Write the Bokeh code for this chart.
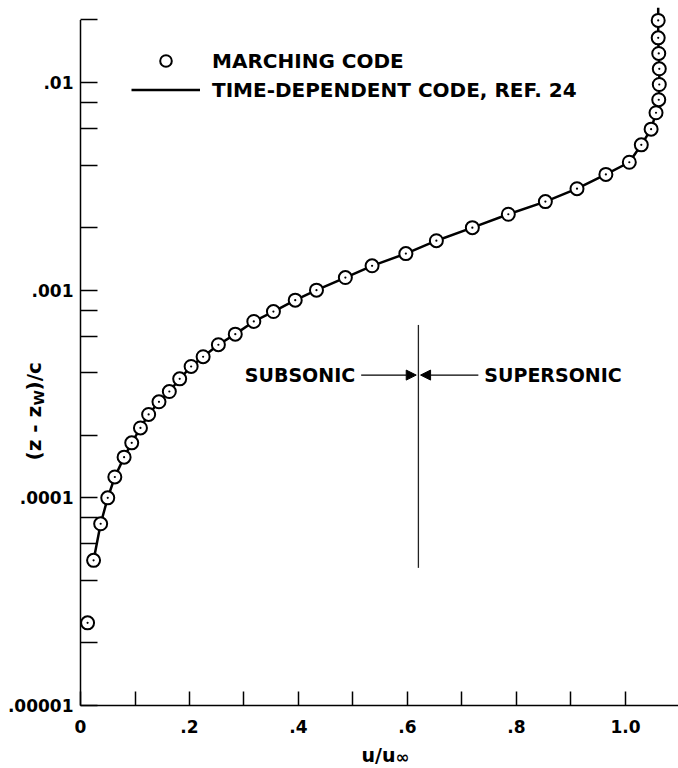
import math
from bokeh.plotting import figure
from bokeh.models import (Range1d, FixedTicker, Label, Arrow, NormalHead, Legend,
                          LegendItem, CustomJSTickFormatter)
from bokeh.embed import file_html
from bokeh.resources import INLINE

# ---- data ----
marching_u = [0.013, 0.024, 0.037, 0.050, 0.063, 0.080, 0.094, 0.110, 0.125, 0.144,
              0.163, 0.182, 0.203, 0.225, 0.253, 0.284, 0.318, 0.354, 0.394, 0.433,
              0.486, 0.535, 0.597, 0.653, 0.719, 0.785, 0.853, 0.911, 0.964, 1.007,
              1.029, 1.047, 1.056, 1.061, 1.062, 1.062, 1.061, 1.060, 1.060]
marching_z = [2.5e-5, 5.0e-5, 7.5e-5, 1.0e-4, 1.26e-4, 1.57e-4, 1.84e-4, 2.17e-4, 2.52e-4, 2.90e-4,
              3.25e-4, 3.74e-4, 4.29e-4, 4.78e-4, 5.46e-4, 6.14e-4, 7.07e-4, 7.89e-4, 8.95e-4, 1.00e-3,
              1.15e-3, 1.31e-3, 1.50e-3, 1.73e-3, 2.00e-3, 2.32e-3, 2.67e-3, 3.08e-3, 3.61e-3, 4.13e-3,
              5.01e-3, 5.96e-3, 7.15e-3, 8.26e-3, 9.78e-3, 1.164e-2, 1.38e-2, 1.64e-2, 1.99e-2]

timedep_u = [0.024, 0.037, 0.050, 0.063, 0.080, 0.094, 0.110, 0.125, 0.144,
             0.163, 0.182, 0.203, 0.225, 0.253, 0.284, 0.318, 0.354, 0.394, 0.433,
             0.486, 0.535, 0.597, 0.653, 0.719, 0.785, 0.853, 0.911, 0.964, 1.007,
             1.029, 1.047, 1.056, 1.061, 1.062, 1.062, 1.061, 1.060, 1.060, 1.060]
timedep_z = [5.0e-5, 7.5e-5, 1.0e-4, 1.26e-4, 1.57e-4, 1.84e-4, 2.17e-4, 2.52e-4, 2.90e-4,
             3.25e-4, 3.74e-4, 4.29e-4, 4.78e-4, 5.46e-4, 6.14e-4, 7.07e-4, 7.89e-4, 8.95e-4, 1.00e-3,
             1.15e-3, 1.31e-3, 1.50e-3, 1.73e-3, 2.00e-3, 2.32e-3, 2.67e-3, 3.08e-3, 3.61e-3, 4.13e-3,
             5.01e-3, 5.96e-3, 7.15e-3, 8.26e-3, 9.78e-3, 1.164e-2, 1.38e-2, 1.64e-2, 1.99e-2, 2.29e-2]

x_major = [0.0, 0.2, 0.4, 0.6, 0.8, 1.0]
x_major_labels = ["0", ".2", ".4", ".6", ".8", "1.0"]
x_minor = [0.1, 0.3, 0.5, 0.7, 0.9]
y_major = [1e-5, 1e-4, 1e-3, 1e-2]
y_major_labels = [".00001", ".0001", ".001", ".01"]
y_minor = [2e-5, 4e-5, 6e-5, 8e-5, 2e-4, 4e-4, 6e-4, 8e-4,
           2e-3, 4e-3, 6e-3, 8e-3, 2e-2]

sonic_u = 0.62
sonic_z = [4.6e-5, 6.8e-4]
arrow_z = 3.9e-4

FONT = "DejaVu Sans"

# the frame covers the whole canvas; axes are pinned with fixed_location
X_START, X_END = -0.14679, 1.09725
Y_START, Y_END = 4.973e-6, 0.02482

p = figure(width=678, height=768, output_backend="svg", toolbar_location=None,
           x_range=Range1d(X_START, X_END), y_range=Range1d(Y_START, Y_END),
           y_axis_type="log", min_border=0)
p.outline_line_color = None
p.xgrid.visible = False
p.ygrid.visible = False
p.background_fill_color = "white"
p.border_fill_color = "white"

# x axis
xa = p.xaxis[0]
xa.fixed_location = y_major[0]
xa.ticker = FixedTicker(ticks=x_major, minor_ticks=x_minor)
xa.formatter = CustomJSTickFormatter(args=dict(tv=x_major, tl=x_major_labels), code="""
    for (let i = 0; i < tv.length; i++) { if (Math.abs(tv[i] - tick) < 1e-9) return tl[i]; }
    return "";""")
xa.major_tick_in = 14
xa.major_tick_out = 0
xa.minor_tick_in = 14
xa.minor_tick_out = 0
xa.major_tick_line_width = 1.5
xa.minor_tick_line_width = 1.5
xa.axis_line_color = None
xa.major_label_standoff = 15
xa.major_label_text_font = FONT
xa.major_label_text_font_style = "bold"
xa.major_label_text_font_size = "17px"
xa.major_label_text_color = "black"

# y axis
ya = p.yaxis[0]
ya.fixed_location = x_major[0]
ya.ticker = FixedTicker(ticks=y_major, minor_ticks=y_minor)
ya.formatter = CustomJSTickFormatter(args=dict(tv=y_major, tl=y_major_labels), code="""
    for (let i = 0; i < tv.length; i++) { if (Math.abs(Math.log10(tv[i]) - Math.log10(tick)) < 1e-6) return tl[i]; }
    return "";""")
ya.major_tick_in = 17
ya.major_tick_out = 0
ya.minor_tick_in = 17
ya.minor_tick_out = 0
ya.major_tick_line_width = 1.5
ya.minor_tick_line_width = 1.5
ya.axis_line_color = None
ya.major_label_standoff = 7
ya.major_label_text_font = FONT
ya.major_label_text_font_style = "bold"
ya.major_label_text_font_size = "17px"
ya.major_label_text_color = "black"

# spines
p.segment(x0=[0], y0=[y_major[0]], x1=[0], y1=[y_minor[-1]], line_width=1.5, color="black")
p.segment(x0=[0], y0=[y_major[0]], x1=[X_END], y1=[y_major[0]], line_width=1.5, color="black")

# data
line_r = p.line(timedep_u, timedep_z, line_width=2.5, color="black")
circ_r = p.scatter(marching_u, marching_z, marker="circle", size=13,
                   fill_color="white", line_color="black", line_width=2)
p.scatter(marching_u, marching_z, marker="circle", size=2.2,
          fill_color="black", line_color=None)

# sonic line and arrows
p.segment(x0=[sonic_u], y0=[sonic_z[0]], x1=[sonic_u], y1=[sonic_z[1]],
          line_width=1.3, color="#222222")
p.add_layout(Arrow(end=NormalHead(size=10, fill_color="black", line_color="black", line_width=1),
                   x_start=sonic_u - 0.105, y_start=arrow_z, x_end=sonic_u - 0.004, y_end=arrow_z,
                   line_width=1.2, line_color="black"))
p.add_layout(Arrow(end=NormalHead(size=10, fill_color="black", line_color="black", line_width=1),
                   x_start=sonic_u + 0.11, y_start=arrow_z, x_end=sonic_u + 0.004, y_end=arrow_z,
                   line_width=1.2, line_color="black"))
p.add_layout(Label(x=sonic_u - 0.116, y=arrow_z, text="SUBSONIC", text_align="right",
                   text_baseline="middle", text_font=FONT, text_font_style="bold",
                   text_font_size="19px", text_color="black"))
p.add_layout(Label(x=sonic_u + 0.121, y=arrow_z, text="SUPERSONIC", text_align="left",
                   text_baseline="middle", text_font=FONT, text_font_style="bold",
                   text_font_size="19px", text_color="black"))

# legend
legend = Legend(items=[LegendItem(label="MARCHING CODE", renderers=[circ_r]),
                       LegendItem(label="TIME-DEPENDENT CODE, REF. 24", renderers=[line_r])],
                location=(131, 664), border_line_color=None, background_fill_alpha=0,
                padding=0, margin=0, spacing=0, glyph_width=69, glyph_height=29,
                label_height=29, label_standoff=12, label_text_font=FONT,
                label_text_font_style="bold", label_text_font_size="20px",
                label_text_color="black")
p.add_layout(legend)

# axis titles (built from pieces for subscripts); screen units from bottom-left
def lab(x, y, text, size, angle=0.0):
    p.add_layout(Label(x=x, y=y, x_units="screen", y_units="screen", text=text,
                       angle=angle, text_align="left", text_baseline="alphabetic",
                       text_font=FONT, text_font_style="bold", text_font_size=size,
                       text_color="black"))

lab(361, 14, "u/u", "19px")
lab(395, 12, "\u221e", "17px")

r = math.pi / 2
lab(33, 308, "(z - z", "20px", r)
lab(38, 363, "W", "14px", r)
lab(33, 378, ")/c", "20px", r)

open("out.html", "w").write(file_html(p, INLINE))
